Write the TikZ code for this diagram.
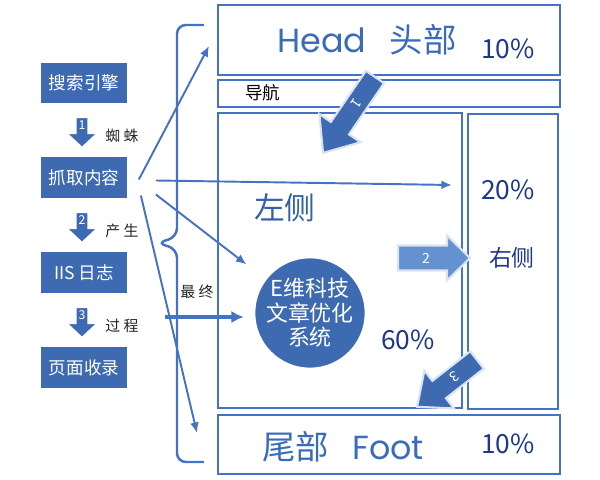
\documentclass[tikz,border=0pt]{standalone}
\usepackage{fontspec}
\setmainfont{Noto Sans CJK SC}
\newfontfamily\roundfont{Poppins}
\usetikzlibrary{arrows.meta,shadows}
\definecolor{lineblue}{RGB}{68,114,196}
\definecolor{boxblue}{RGB}{62,106,178}
\definecolor{navy}{RGB}{30,55,140}
\definecolor{headblue}{RGB}{58,108,188}
\definecolor{lightblue}{RGB}{100,145,208}
% block arrow along +x: length, half shaft, half head, head length
\newcommand{\arrowshape}[4]{(0,-#2) -- (#1-#4,-#2) -- (#1-#4,-#3) -- (#1,0) -- (#1-#4,#3) -- (#1-#4,#2) -- (0,#2) -- cycle}

\begin{document}
\begin{tikzpicture}[x=0.02cm,y=0.02cm,
	stepbox/.style={fill=boxblue, draw=white, line width=1pt, text=white,
		minimum width=1.76cm, minimum height=0.84cm, font=\fontsize{10}{12}\selectfont,
		drop shadow={shadow xshift=0.5pt, shadow yshift=-0.5pt, opacity=0.35, fill=lineblue!50}},
	region/.style={draw=lineblue, line width=1.2pt, inner sep=0pt},
	pct/.style={text=navy, font=\fontsize{15}{18}\selectfont},
	steplabel/.style={text=black!85, font=\fontsize{8.5}{10}\selectfont},
	thinarrow/.style={draw=lineblue, line width=1.1pt, -{Latex[length=6pt,width=5pt]}},
	bigarrow/.style={fill=boxblue, draw=lineblue!20, line width=1.2pt}]
	\useasboundingbox (0,0) rectangle (600,480);

	\foreach \name/\y/\t in {search/397/搜索引擎, crawl/302.5/抓取内容, logs/207.5/IIS 日志, index/112.5/页面收录}{
		\node[stepbox] (\name) at (84,\y) {\t};
	}

	\foreach \y/\n/\t in {363/1/蜘 蛛, 268/2/产 生, 173/3/过 程}{
		\begin{scope}[shift={(82,\y)}, rotate=-90]
			\filldraw[bigarrow, draw=white] \arrowshape{31}{6.5}{16}{15};
			\node[text=white, font=\fontsize{7}{8}\selectfont] at (8,0) {\n};
		\end{scope}
		\node[steplabel] at (122,\y-19) {\t};
	}

	% page regions
	\node[region, minimum width=6.84cm, minimum height=1.4cm] (head) at (389,440) {};
	\node[region, minimum width=6.84cm, minimum height=0.54cm] (nav) at (389,386.5) {};
	\node[region, minimum width=4.88cm, minimum height=5.9cm] (left) at (340,219.5) {};
	\node[region, minimum width=1.8cm, minimum height=5.9cm] (right) at (513,218.5) {};
	\node[region, minimum width=6.84cm, minimum height=1.18cm] (foot) at (389,35.5) {};

	\node[text=headblue, font=\fontsize{19}{22}\selectfont] (headtext) at (367,440) {{\roundfont Head}\hspace{0.7em}头部};
	\node[pct] (headpct) at (508,431) {10\%};
	\node[font=\fontsize{10}{12}\selectfont] (navtext) at (263,387) {导航};
	\node[text=headblue!90!black, font=\fontsize{17.5}{20}\selectfont] (lefttext) at (285,272) {左侧};
	\node[pct] (rightpct) at (508,290) {20\%};
	\node[text=navy, font=\fontsize{13}{15}\selectfont] (righttext) at (512,222) {右侧};
	\node[pct] (leftpct) at (408,140) {60\%};
	\node[text=headblue, font=\fontsize{19}{22}\selectfont] (foottext) at (343,33) {尾部\hspace{0.7em}{\roundfont Foot}};
	\node[pct] (footpct) at (508,36) {10\%};

	\node[circle, fill=boxblue, draw=white, line width=1.5pt, minimum size=2.24cm, inner sep=0pt, text=white,
		align=center, font=\fontsize{12.5}{14}\selectfont,
		drop shadow={shadow xshift=0.5pt, shadow yshift=-0.5pt, opacity=0.35, fill=lineblue!50}] (circ) at (310,167) {E维科技\\文章优化\\系统};

	% numbered block arrows
	\begin{scope}[shift={(375,403)}, rotate=235.6]
		\filldraw[bigarrow] \arrowshape{92}{11}{25}{30};
		\node[transform shape, text=white, font=\fontsize{8}{9}\selectfont] (one) at (32,0) {1};
	\end{scope}
	\begin{scope}[shift={(398,222)}]
		\filldraw[bigarrow, fill=lightblue] \arrowshape{72}{12.5}{22.5}{23};
		\node[text=white, font=\fontsize{8}{9}\selectfont] (two) at (28,0) {2};
	\end{scope}
	\begin{scope}[shift={(477,120)}, rotate=218]
		\filldraw[bigarrow] \arrowshape{76}{11}{24}{28};
		\node[transform shape, text=white, font=\fontsize{8}{9}\selectfont] (three) at (28,0) {3};
	\end{scope}

	% brace
	\draw[draw=lineblue, line width=1.4pt, rounded corners=5] (204,455) -- (177,455) -- (177,243) -- (157,237) -- (177,231) -- (177,18) -- (204,18);

	\draw[thinarrow] ([shift={(10,-2)}]crawl.east) -- ([shift={(-8,-6)}]head.west);
	\draw[thinarrow] ([shift={(27,-3)}]crawl.east) -- ([shift={(-15,76.5)}]right.west);
	\draw[thinarrow] ([shift={(27,-17)}]crawl.east) -- ([shift={(-23,8)}]circ.north west);
	\draw[thinarrow] ([shift={(12,-18)}]crawl.east) -- ([shift={(-20,11.5)}]foot.west);

	\coordinate (final) at (165,163);
	\draw[thinarrow, line width=1.8pt, -{Latex[length=7pt,width=7pt]}] (final) -- ([shift={(-9,-4)}]circ.west);
	\node[steplabel] (finaltext) at (197,188) {最 终};
\end{tikzpicture}
\end{document}
